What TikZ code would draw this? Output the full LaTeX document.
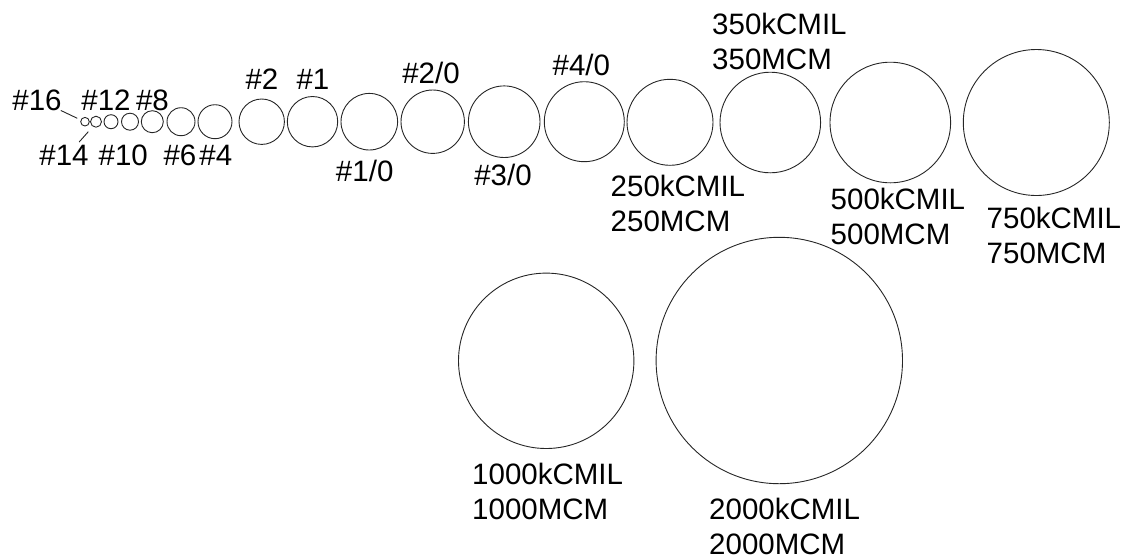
\documentclass[tikz,border=0pt]{standalone}
\usepackage{fontspec}
\setmainfont{Liberation Sans}
\begin{document}
\begin{tikzpicture}[x=1pt,y=-1pt,
  wire/.style={circle,draw=black!85,line width=0.9pt,inner sep=0pt,minimum size=#1},
  gauge/.style={inner sep=0pt,font=\fontsize{29.5}{35}\selectfont},
  size/.style={inner sep=0pt,anchor=north west,align=left,font=\fontsize{29.5}{35}\selectfont},
  leader/.style={draw=black!85,line width=0.9pt}]
\useasboundingbox (0,0) rectangle (1140,558);

% conductor cross-sections, diameter = 2r
\node[wire=8.6pt]   (c16)   at (85,121.7)    {};
\node[wire=11pt]    (c14)   at (96,121.7)    {};
\node[wire=14pt]    (c12)   at (111,121.7)   {};
\node[wire=17pt]    (c10)   at (130,121.7)   {};
\node[wire=22pt]    (c8)    at (152.3,121.7) {};
\node[wire=28pt]    (c6)    at (181,121.7)   {};
\node[wire=34pt]    (c4)    at (215,121.7)   {};
\node[wire=45.4pt]  (c2)    at (261.7,121.7) {};
\node[wire=50.4pt]  (c1)    at (312.5,121.7) {};
\node[wire=56.6pt]  (c1o)   at (369.3,121.7) {};
\node[wire=63.4pt]  (c2o)   at (432.7,121.7) {};
\node[wire=71.6pt]  (c3o)   at (504.2,121.7) {};
\node[wire=80pt]    (c4o)   at (584.3,121.7) {};
\node[wire=86pt]    (c250)  at (670,122.3)   {};
\node[wire=100.6pt] (c350)  at (770.3,122.5) {};
\node[wire=120.6pt] (c500)  at (890.3,122.5) {};
\node[wire=146pt]   (c750)  at (1036.3,122.5) {};
\node[wire=175.4pt] (c1000) at (546.2,360.8) {};
\node[wire=246.4pt] (c2000) at (779.3,360.5) {};

% AWG labels
\node[gauge] (l16) at (37,100.8)    {\#16};
\node[gauge] (l12) at (106,100.3)   {\#12};
\node[gauge] (l8)  at (152.5,100.3) {\#8};
\node[gauge] (l14) at (64,155.8)    {\#14};
\node[gauge] (l10) at (123.3,155.8) {\#10};
\node[gauge] (l6)  at (180,155.8)   {\#6};
\node[gauge] (l4)  at (215.8,155.8) {\#4};
\node[gauge] (l2)  at (262,79)      {\#2};
\node[gauge] (l1)  at (313,79)      {\#1};
\node[gauge] (l1o) at (364.7,171)   {\#1/0};
\node[gauge] (l2o) at (431,72.7)    {\#2/0};
\node[gauge] (l3o) at (503,174.5)   {\#3/0};
\node[gauge] (l4o) at (581.3,65)    {\#4/0};

% kcmil labels
\node[size] (l250)  at (610.5,175)  {250kCMIL\\250MCM};
\node[size] (l350)  at (712,13.3)   {350kCMIL\\350MCM};
\node[size] (l500)  at (830.5,188)  {500kCMIL\\500MCM};
\node[size] (l750)  at (986.5,207)  {750kCMIL\\750MCM};
\node[size] (l1000) at (472,463)    {1000kCMIL\\1000MCM};
\node[size] (l2000) at (709,498)    {2000kCMIL\\2000MCM};

% leaders for the two smallest gauges
\coordinate (t16) at (77.3,118.3);
\coordinate (t14) at (88.3,131.7);
\draw[leader] ([xshift=-1pt,yshift=1pt]l16.south east) -- (t16);
\draw[leader] ([xshift=-9.7pt,yshift=3.4pt]l14.north east) -- (t14);
\end{tikzpicture}
\end{document}
